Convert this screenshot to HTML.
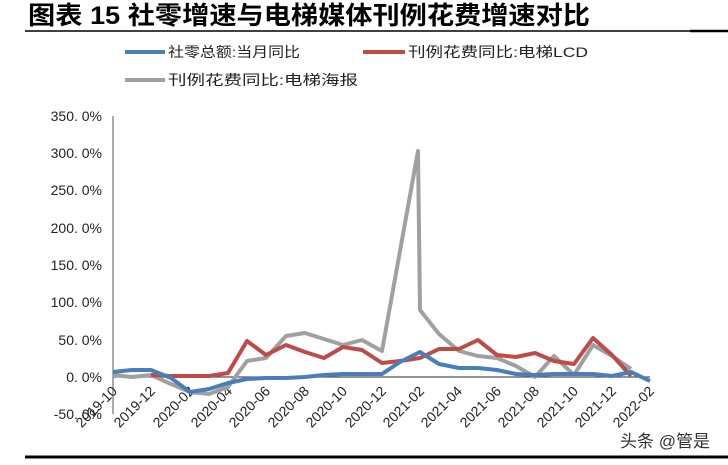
<!DOCTYPE html>
<html><head><meta charset="utf-8"><style>
body{margin:0;width:728px;height:460px;background:#fff;overflow:hidden;font-family:"Liberation Sans","Noto Sans CJK SC",sans-serif;}
</style></head><body>
<svg width="728" height="460" xmlns="http://www.w3.org/2000/svg" font-family="'Liberation Sans','Noto Sans CJK SC',sans-serif">
<text x="28" y="24" font-size="25" font-weight="bold" fill="#000" textLength="562" lengthAdjust="spacingAndGlyphs">图表 15 社零增速与电梯媒体刊例花费增速对比</text>
<line x1="25" y1="31" x2="690" y2="31" stroke="#000" stroke-width="1.5"/>
<line x1="690" y1="31" x2="728" y2="31" stroke="#000" stroke-width="2.5"/>
<line x1="125" y1="52" x2="165" y2="52" stroke="#4a7ebb" stroke-width="4"/>
<text x="168" y="57" font-size="14" fill="#222" textLength="132" lengthAdjust="spacingAndGlyphs">社零总额:当月同比</text>
<line x1="363" y1="52" x2="405" y2="52" stroke="#be4b48" stroke-width="4"/>
<text x="408" y="57" font-size="14" fill="#222" textLength="180" lengthAdjust="spacingAndGlyphs">刊例花费同比:电梯LCD</text>
<line x1="125" y1="80" x2="165" y2="80" stroke="#a0a0a0" stroke-width="4"/>
<text x="168" y="85" font-size="14" fill="#222" textLength="190" lengthAdjust="spacingAndGlyphs">刊例花费同比:电梯海报</text>
<g font-size="14" fill="#222" text-anchor="end">
<text x="102" y="121">350. 0%</text><text x="102" y="158">300. 0%</text><text x="102" y="195">250. 0%</text><text x="102" y="233">200. 0%</text><text x="102" y="270">150. 0%</text><text x="102" y="307">100. 0%</text><text x="102" y="345">50. 0%</text><text x="102" y="382">0. 0%</text><text x="102" y="419">-50. 0%</text>
</g>
<line x1="113" y1="116" x2="113" y2="414" stroke="#555" stroke-width="1"/>
<line x1="113" y1="377" x2="650" y2="377" stroke="#555" stroke-width="1.2"/>
<g font-size="14" fill="#222" text-anchor="end">
<text transform="translate(118,392) rotate(-45)">2019-10</text>
<text transform="translate(156,392) rotate(-45)">2019-12</text>
<text transform="translate(195,392) rotate(-45)">2020-02</text>
<text transform="translate(233,392) rotate(-45)">2020-04</text>
<text transform="translate(271,392) rotate(-45)">2020-06</text>
<text transform="translate(310,392) rotate(-45)">2020-08</text>
<text transform="translate(348,392) rotate(-45)">2020-10</text>
<text transform="translate(387,392) rotate(-45)">2020-12</text>
<text transform="translate(425,392) rotate(-45)">2021-02</text>
<text transform="translate(463,392) rotate(-45)">2021-04</text>
<text transform="translate(502,392) rotate(-45)">2021-06</text>
<text transform="translate(540,392) rotate(-45)">2021-08</text>
<text transform="translate(579,392) rotate(-45)">2021-10</text>
<text transform="translate(617,392) rotate(-45)">2021-12</text>
<text transform="translate(655,392) rotate(-45)">2022-02</text>
</g>
<g fill="none" stroke-width="4" stroke-linejoin="round">
<polyline stroke="#a0a0a0" points="113,375 132,377 151,375 171,384 190,392 209,394 228,387 247,361 266,358 286,336 305,333 324,339 343,345 362,340 382,351 418,151 420,310 439,334 459,351 478,356 497,358 516,366 535,377 554,356 574,375 593,345 612,356 631,369"/>
<polyline stroke="#be4b48" points="151,375 171,376 190,376 209,376 228,373 247,341 266,355 286,345 305,352 324,358 343,347 362,350 382,363 400,361 420,358 439,349 459,349 478,340 497,355 516,357 535,353 554,361 574,364 593,338 612,355 631,376"/>
<polyline stroke="#4a7ebb" points="113,372 132,370 151,370 171,378 190,392 209,389 228,383 247,379 266,378 286,378 305,377 324,375 343,374 362,374 382,374 400,362 420,352 439,364 459,368 478,368 497,370 516,374 535,375 554,374 574,374 593,374 612,376 631,372 650,381"/>
</g>
<text x="620" y="447" font-size="17" fill="#333">头条 @管是</text>
<line x1="25" y1="457" x2="728" y2="457" stroke="#000" stroke-width="3"/>
</svg>
</body></html>
